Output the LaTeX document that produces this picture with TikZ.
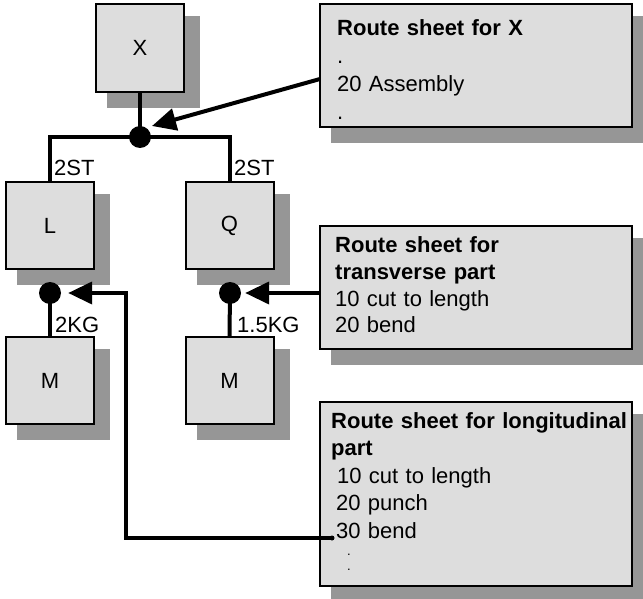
\documentclass[tikz,border=0pt]{standalone}
\usepackage{fontspec}
\setmainfont{Liberation Sans}
\usetikzlibrary{arrows.meta,backgrounds,calc}
\definecolor{boxfill}{RGB}{221,221,221}
\definecolor{shadowc}{RGB}{150,150,150}
\begin{document}
\begin{tikzpicture}[x=1pt,y=-1pt, font=\fontsize{22}{28}\selectfont,
  box/.style={draw=black, line width=2pt, fill=boxfill, minimum width=88pt, minimum height=87pt, inner sep=0pt},
  sheet/.style={draw=black, line width=2pt, fill=boxfill, minimum width=312pt, inner sep=0pt},
  conn/.style={line width=4pt},
  arr/.style={conn, -{Triangle[length=24pt,width=22pt]}},
  jdot/.style={circle, fill=black, inner sep=0pt, minimum size=22pt},
  lbl/.style={anchor=base west, inner sep=0pt},
  smalldot/.style={anchor=base west, inner sep=0pt, font=\fontsize{13}{13}\selectfont},
  sheettext/.style={anchor=base west, inner sep=0pt, text width=300pt, align=left}]
\useasboundingbox (0,0) rectangle (643,599);
% part boxes
\node[box, minimum height=88pt] (X) at (140,48) {X};
\node[box] (L) at (50,225.5) {L};
\node[box] (Q) at (229.5,225.5) {Q};
\node[box] (M1) at (50,380.5) {M};
\node[box] (M2) at (229.5,380.5) {M};
% route sheets
\node[sheet, minimum height=123pt] (rx) at (476,65.5) {};
\node[sheet, minimum height=123pt] (rt) at (476,287.5) {};
\node[sheet, minimum height=184pt] (rl) at (476,494) {};
\begin{pgfonlayer}{background}
\foreach \n in {X,L,Q,M1,M2,rx,rt,rl}
  \fill[shadowc] ($(\n.north west)+(12,13)$) rectangle ($(\n.south east)+(15,15)$);
\end{pgfonlayer}
\node[sheettext] (rxt) at (337,36) {\textbf{Route sheet for X}\\.\\20 Assembly\\.};
\node[sheettext, font=\fontsize{22}{27}\selectfont] (rtt) at (335,252) {\textbf{Route sheet for}\\\textbf{transverse part}\\10 cut to length\\20 bend};
\node[sheettext, font=\fontsize{22}{27.5}\selectfont] (rlt) at (331,428) {\textbf{Route sheet for longitudinal}\\\textbf{part}\\\hspace*{6pt}10 cut to length\\\hspace*{5pt}20 punch\\\hspace*{5pt}30 bend};
\node[smalldot] (dd1) at (347,555) {.};
\node[smalldot] (dd2) at (347,570) {.};
% junction dots
\node[jdot] (dotX) at (140,137) {};
\node[jdot] (dotL) at (50,293) {};
\node[jdot] (dotQ) at (230,293) {};
% structure lines
\draw[conn] (X.south) -- (dotX.center);
\draw[conn] (dotX.center) -| (L.north);
\draw[conn] (dotX.center) -| (Q.north);
\draw[conn] (dotL.center) -- (M1.north);
\draw[conn] (dotQ.center) -- (M2.north);
% quantity labels
\node[lbl] (q1) at (54,176) {2ST};
\node[lbl] (q2) at (234,176) {2ST};
\node[lbl] (q3) at (55,332) {2KG};
\node[lbl] (q4) at (237,332) {1.5KG};
% arrows from route sheets
\coordinate (ax) at (320,79);
\coordinate (tipx) at (152,126);
\draw[arr] (ax) -- (tipx);
\draw[arr, shorten >=4pt] (rt.west |- dotQ) -- (dotQ);
\coordinate (c30) at (332,538);
\coordinate (cL) at (126,538);
\draw[arr, shorten >=7pt] (c30) -- (cL) |- (dotL);
\fill (c30) circle (2.5pt);
\end{tikzpicture}
\end{document}
